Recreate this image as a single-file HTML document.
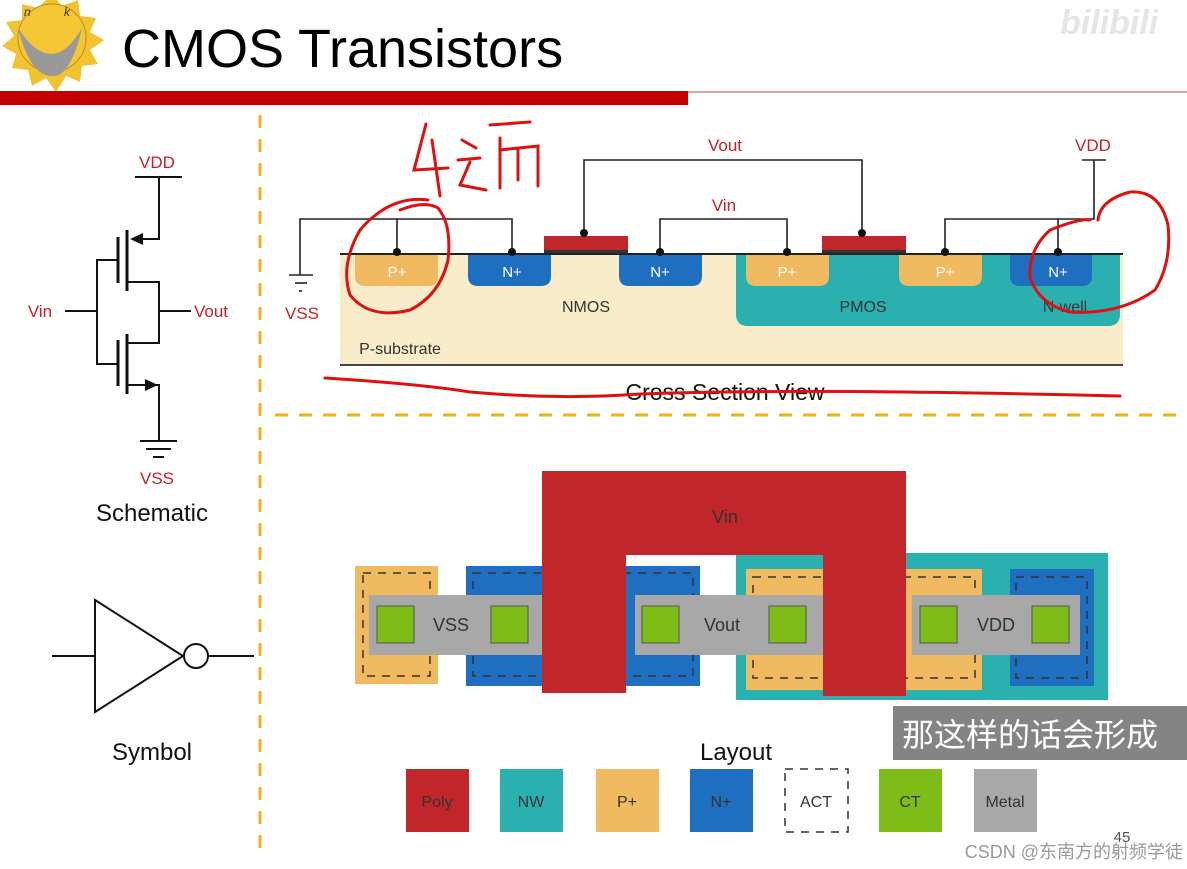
<!DOCTYPE html>
<html><head><meta charset="utf-8"><style>
html,body{margin:0;padding:0;background:#fff;}
svg{display:block;font-family:"Liberation Sans","Noto Sans CJK SC",sans-serif;}
</style></head><body>
<svg width="1187" height="869" viewBox="0 0 1187 869" xmlns="http://www.w3.org/2000/svg">
<rect width="1187" height="869" fill="#fff"/>
<!-- logo -->
<g>
<polygon points="52,-6 62,6 78,0 80,16 96,18 90,32 104,40 90,50 98,64 82,66 80,82 66,76 56,92 46,78 32,86 28,70 12,68 16,54 2,46 14,36 6,22 22,20 22,4 38,8" fill="#f2c230"/>
<circle cx="52" cy="38" r="34" fill="#f4c534" stroke="#b89020" stroke-width="1"/>
<path d="M18,28 Q52,80 82,28 Q70,78 52,76 Q30,76 18,28Z" fill="#999"/>
<text x="24" y="16" font-size="12" font-style="italic" fill="#333">n</text>
<text x="64" y="16" font-size="12" font-style="italic" fill="#333">k</text>
</g>
<text x="122" y="67" font-size="54" fill="#000">CMOS Transistors</text>
<text x="1060" y="34" font-size="34" font-weight="bold" fill="#e6e6e6" font-style="italic">bilibili</text>
<rect x="0" y="91" width="688" height="14" fill="#c20000"/>
<line x1="688" y1="92" x2="1187" y2="92" stroke="#d04040" stroke-width="1"/>
<!-- dashed separators -->
<line x1="260" y1="115" x2="260" y2="858" stroke="#f0b020" stroke-width="3" stroke-dasharray="13,11"/>
<line x1="275" y1="415" x2="1187" y2="415" stroke="#f0b020" stroke-width="3" stroke-dasharray="13,11"/>

<!-- schematic -->
<g stroke="#111" stroke-width="2" fill="none">
<line x1="135" y1="177" x2="182" y2="177"/>
<polyline points="159,177 159,239 141,239"/>
<line x1="127" y1="230" x2="127" y2="291" stroke-width="3"/>
<line x1="118" y1="237" x2="118" y2="283" stroke-width="3"/>
<polyline points="118,260 97,260 97,364 118,364"/>
<line x1="65" y1="311" x2="97" y2="311"/>
<polyline points="127,282 159,282 159,343 127,343"/>
<line x1="159" y1="311" x2="191" y2="311"/>
<line x1="127" y1="334" x2="127" y2="394" stroke-width="3"/>
<line x1="118" y1="340" x2="118" y2="386" stroke-width="3"/>
<polyline points="127,385 159,385 159,441"/>
<line x1="140" y1="441" x2="177" y2="441"/>
<line x1="146" y1="449" x2="171" y2="449"/>
<line x1="153" y1="457" x2="164" y2="457"/>
</g>
<polygon points="130,239 143,233 143,245" fill="#111"/>
<polygon points="158,385 145,379 145,391" fill="#111"/>
<g fill="#c8202a" font-size="17" text-anchor="middle">
<text x="157" y="168">VDD</text>
<text x="40" y="317">Vin</text>
<text x="211" y="317">Vout</text>
<text x="157" y="484">VSS</text>
</g>
<text x="152" y="521" font-size="24" text-anchor="middle" fill="#111">Schematic</text>
<!-- symbol -->
<g stroke="#111" stroke-width="2" fill="none">
<polygon points="95,600 95,712 183,656"/>
<circle cx="196" cy="656" r="12"/>
<line x1="52" y1="656" x2="95" y2="656"/>
<line x1="208" y1="656" x2="254" y2="656"/>
</g>
<text x="152" y="760" font-size="24" text-anchor="middle" fill="#111">Symbol</text>

<!-- cross section -->
<rect x="340" y="254" width="783" height="111" fill="#f8edc8"/>
<path d="M736,254 H1120 V314 Q1120,326 1108,326 H748 Q736,326 736,314Z" fill="#2bb0b0"/>
<g>
<path d="M355,254 H438 V276 Q438,286 428,286 H365 Q355,286 355,276Z" fill="#f0bb60"/>
<path d="M468,254 H551 V276 Q551,286 541,286 H478 Q468,286 468,276Z" fill="#1f6fc0"/>
<path d="M619,254 H702 V276 Q702,286 692,286 H629 Q619,286 619,276Z" fill="#1f6fc0"/>
<path d="M746,254 H829 V276 Q829,286 819,286 H756 Q746,286 746,276Z" fill="#f0bb60"/>
<path d="M899,254 H982 V276 Q982,286 972,286 H909 Q899,286 899,276Z" fill="#f0bb60"/>
<path d="M1010,254 H1092 V276 Q1092,286 1082,286 H1020 Q1010,286 1010,276Z" fill="#1f6fc0"/>
</g>
<rect x="544" y="236" width="84" height="14" fill="#c0262a"/>
<rect x="544" y="250" width="84" height="4" fill="#333"/>
<rect x="822" y="236" width="84" height="14" fill="#c0262a"/>
<rect x="822" y="250" width="84" height="4" fill="#333"/>
<line x1="340" y1="254" x2="1123" y2="254" stroke="#222" stroke-width="2"/>
<line x1="340" y1="365" x2="1123" y2="365" stroke="#444" stroke-width="2"/>
<g stroke="#222" stroke-width="1.6" fill="none">
<polyline points="300,275 300,219 512,219 512,252"/>
<line x1="397" y1="219" x2="397" y2="252"/>
<line x1="289" y1="275" x2="313" y2="275"/>
<line x1="295" y1="283" x2="307" y2="283"/>
<line x1="299" y1="291" x2="302" y2="291"/>
<polyline points="660,252 660,219 787,219 787,252"/>
<polyline points="584,234 584,160 862,160 862,234"/>
<polyline points="945,252 945,219 1094,219 1094,160"/>
<line x1="1082" y1="160" x2="1106" y2="160"/>
<line x1="1058" y1="219" x2="1058" y2="252"/>
</g>
<g fill="#111">
<circle cx="397" cy="252" r="4"/><circle cx="512" cy="252" r="4"/><circle cx="660" cy="252" r="4"/>
<circle cx="787" cy="252" r="4"/><circle cx="945" cy="252" r="4"/><circle cx="1058" cy="252" r="4"/>
<circle cx="584" cy="233" r="4"/><circle cx="862" cy="233" r="4"/>
</g>
<g font-size="15" text-anchor="middle" fill="#fff">
<text x="397" y="277">P+</text><text x="512" y="277" >N+</text><text x="660" y="277">N+</text>
<text x="787" y="277">P+</text><text x="945" y="277">P+</text><text x="1058" y="277">N+</text>
</g>
<g font-size="16" text-anchor="middle" fill="#333">
<text x="586" y="312">NMOS</text><text x="863" y="312">PMOS</text><text x="1065" y="312">N-well</text>
<text x="400" y="354">P-substrate</text>
</g>
<g fill="#c8202a" font-size="17" text-anchor="middle">
<text x="725" y="151">Vout</text><text x="724" y="211">Vin</text>
<text x="1093" y="151">VDD</text><text x="302" y="319">VSS</text>
</g>
<text x="725" y="400" font-size="23" text-anchor="middle" fill="#111">Cross Section View</text>
<!-- red handwriting -->
<g stroke="#e01010" stroke-width="3" fill="none" stroke-linecap="round">
<path d="M325,378 Q420,384 470,392 Q560,400 640,394 Q800,388 1120,396"/>
<path d="M428,200 Q390,195 360,230 Q340,265 350,295 Q370,320 410,310 Q440,295 448,260 Q452,225 438,208 Q425,200 400,210"/>
<path d="M1090,220 Q1080,218 1050,230 Q1028,250 1030,278 Q1040,305 1070,312 Q1120,315 1155,290 Q1172,262 1168,225 Q1160,190 1130,192 Q1100,200 1098,220"/>
<path d="M426,124 L414,170 L448,168 M432,140 L440,196"/>
<path d="M462,140 L476,148 M458,160 L480,158 M470,162 L460,185 L486,190 M490,125 L530,122 M500,138 L500,188 M500,150 L538,146 L538,186 M518,150 L518,180"/>
</g>

<!-- layout -->
<rect x="736" y="553" width="372" height="147" fill="#2bb0b0"/>
<rect x="355" y="566" width="83" height="118" fill="#f0bb60"/>
<rect x="466" y="566" width="234" height="120" fill="#1f6fc0"/>
<rect x="746" y="569" width="236" height="121" fill="#f0bb60"/>
<rect x="1010" y="569" width="84" height="117" fill="#1f6fc0"/>
<g fill="none" stroke="#333" stroke-width="1.5" stroke-dasharray="8,7">
<rect x="363" y="573" width="67" height="103"/>
<rect x="473" y="573" width="220" height="103"/>
<rect x="753" y="577" width="222" height="101"/>
<rect x="1016" y="577" width="71" height="101"/>
</g>
<g fill="#a8a8a8">
<rect x="369" y="595" width="190" height="60"/>
<rect x="635" y="595" width="190" height="60"/>
<rect x="912" y="595" width="168" height="60"/>
</g>
<g fill="#c0262a">
<rect x="542" y="471" width="364" height="84"/>
<rect x="542" y="471" width="84" height="222"/>
<rect x="823" y="471" width="83" height="225"/>
</g>
<g fill="#7ebd18" stroke="#555" stroke-width="1">
<rect x="377" y="606" width="37" height="37"/><rect x="491" y="606" width="37" height="37"/>
<rect x="642" y="606" width="37" height="37"/><rect x="769" y="606" width="37" height="37"/>
<rect x="920" y="606" width="37" height="37"/><rect x="1032" y="606" width="37" height="37"/>
</g>
<g font-size="18" text-anchor="middle" fill="#333">
<text x="451" y="631">VSS</text><text x="722" y="631">Vout</text><text x="996" y="631">VDD</text>
<text x="725" y="523">Vin</text>
</g>
<text x="736" y="760" font-size="24" text-anchor="middle" fill="#111">Layout</text>
<!-- legend -->
<rect x="406" y="769" width="63" height="63" fill="#c0262a"/>
<rect x="500" y="769" width="63" height="63" fill="#2bb0b0"/>
<rect x="596" y="769" width="63" height="63" fill="#f0bb60"/>
<rect x="690" y="769" width="63" height="63" fill="#1f6fc0"/>
<rect x="785" y="769" width="63" height="63" fill="#fff" stroke="#333" stroke-width="1.5" stroke-dasharray="8,7"/>
<rect x="879" y="769" width="63" height="63" fill="#7ebd18"/>
<rect x="974" y="769" width="63" height="63" fill="#a8a8a8"/>
<g font-size="16" text-anchor="middle" fill="#333">
<text x="437" y="807">Poly</text><text x="531" y="807">NW</text><text x="627" y="807">P+</text>
<text x="721" y="807">N+</text><text x="816" y="807">ACT</text><text x="910" y="807">CT</text><text x="1005" y="807">Metal</text>
</g>
<text x="1122" y="842" font-size="15" text-anchor="middle" fill="#555">45</text>
<!-- subtitle -->
<rect x="893" y="706" width="294" height="54" fill="#7a7a7a" opacity="0.92"/>
<text x="902" y="746" font-size="32" fill="#fff">那这样的话会形成</text>
<text x="1183" y="858" font-size="18" text-anchor="end" fill="#9a9a9a">CSDN @东南方的射频学徒</text>
</svg>
</body></html>
